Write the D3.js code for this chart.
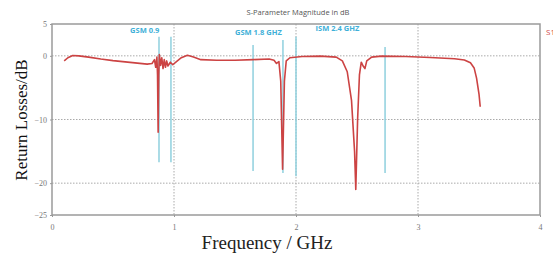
<!DOCTYPE html>
<html>
<head>
<meta charset="utf-8">
<script src="https://cdn.jsdelivr.net/npm/d3@7"></script>
<style>
  body { margin: 0; background: #fff; }
  svg { display: block; }
</style>
</head>
<body>
<svg id="chart" width="553" height="257"></svg>
<script>
// S11 trace (GHz, dB)
var freq = [0.10, 0.13, 0.17, 0.22, 0.30, 0.40, 0.50, 0.60, 0.70, 0.78, 0.82,
            0.84, 0.85, 0.86, 0.865, 0.87, 0.875, 0.88, 0.89, 0.90, 0.91, 0.92, 0.93, 0.94, 0.95, 0.97, 0.99,
            1.02, 1.06, 1.11, 1.16, 1.22, 1.35, 1.50, 1.65, 1.78, 1.82, 1.84, 1.86, 1.875, 1.89, 1.905, 1.92, 1.95,
            2.05, 2.20, 2.33, 2.38, 2.42, 2.455, 2.48, 2.49, 2.505, 2.52, 2.535, 2.55, 2.565, 2.58, 2.62, 2.70,
            2.90, 3.10, 3.30, 3.38, 3.43, 3.46, 3.48, 3.50, 3.51];
var s11 =  [-0.8, -0.3, 0.05, 0.0, -0.2, -0.5, -0.75, -0.95, -1.15, -1.3, -1.2,
            -0.6, -1.8, -0.2, -3, -12, -3, 0.2, -1.5, -0.3, -2.0, -0.6, -1.8, -0.8, -1.6, -1.0, -1.4,
            -0.9, -0.3, 0.1, -0.2, -0.6, -0.7, -0.7, -0.6, -0.5, -0.7, -1.2, -0.9, -4, -17.8, -4, -0.8, -0.3,
            -0.1, -0.05, -0.2, -0.8, -2.5, -7, -15, -21, -10, -3, -1.0, -1.6, -2.0, -0.8, -0.2, -0.05,
            -0.1, -0.25, -0.45, -0.65, -1.1, -1.9, -3.5, -6, -8];

// band marker lines: frequency, top dB, bottom dB
var markerFreq = [0.877, 0.975, 1.648, 1.893, 2.0, 2.73];
var markerTop  = [3.0, 3.0, 1.7, 2.5, 3.0, 1.4];
var markerBot  = [-16.7, -16.7, -18.1, -18.4, -18.9, -18.4];

var bandLabels = ["GSM 0.9", "GSM 1.8 GHZ", "ISM 2.4 GHZ"];
var bandLabelFreq = [0.64, 1.5, 2.16];
var bandLabelDb = [3.6, 3.3, 3.9];

var xTicks = [0, 1, 2, 3, 4];
var yTicks = [5, 0, -10, -20, -25];
var yGrid = [0, -10, -20];
var xGrid = [1, 2, 3];

var svg = d3.select("#chart");
var plotL = 52, plotR = 540, plotT = 24, plotB = 215;

var x = d3.scaleLinear().domain([0, 4]).range([plotL, plotR]);
var y = d3.scaleLinear().domain([-25, 5]).range([plotB, plotT]);

// grid
svg.append("g").selectAll("line")
  .data(yGrid).enter().append("line")
    .attr("x1", plotL).attr("x2", plotR)
    .attr("y1", function(d) { return y(d); })
    .attr("y2", function(d) { return y(d); })
    .attr("stroke", "#aaa")
    .attr("stroke-width", 1)
    .attr("stroke-dasharray", "1.5,1.5");

svg.append("g").selectAll("line")
  .data(xGrid).enter().append("line")
    .attr("y1", plotT).attr("y2", plotB)
    .attr("x1", function(d) { return x(d); })
    .attr("x2", function(d) { return x(d); })
    .attr("stroke", "#aaa")
    .attr("stroke-width", 1)
    .attr("stroke-dasharray", "1.5,1.5");

// frame
svg.append("rect")
    .attr("x", plotL).attr("y", plotT)
    .attr("width", plotR - plotL).attr("height", plotB - plotT)
    .attr("fill", "none")
    .attr("stroke", "#9a9a9a")
    .attr("stroke-width", 1.5);

// axes
var xAxis = svg.append("g")
    .attr("transform", "translate(0," + plotB + ")")
    .call(d3.axisBottom(x).tickValues(xTicks).tickSize(2).tickPadding(7).tickFormat(d3.format("d")));
var yAxis = svg.append("g")
    .attr("transform", "translate(" + plotL + ",0)")
    .call(d3.axisLeft(y).tickValues(yTicks).tickSize(2).tickPadding(3).tickFormat(d3.format("d")));
[xAxis, yAxis].forEach(function(a) {
  a.select(".domain").remove();
  a.selectAll(".tick line").attr("stroke", "#999");
  a.selectAll(".tick text")
    .attr("fill", "#777")
    .attr("font-family", "Liberation Serif, serif")
    .attr("font-size", 8);
});

// band markers
svg.append("g").selectAll("line")
  .data(markerFreq).enter().append("line")
    .attr("x1", function(d) { return x(d); })
    .attr("x2", function(d) { return x(d); })
    .attr("y1", function(d, i) { return y(markerTop[i]); })
    .attr("y2", function(d, i) { return y(markerBot[i]); })
    .attr("stroke", "#8fd0de")
    .attr("stroke-width", 1.5);

svg.append("g").selectAll("text")
  .data(bandLabels).enter().append("text")
    .attr("x", function(d, i) { return x(bandLabelFreq[i]); })
    .attr("y", function(d, i) { return y(bandLabelDb[i]); })
    .attr("fill", "#3fb0d8")
    .attr("font-family", "Open Sans, sans-serif")
    .attr("font-weight", "bold")
    .attr("font-size", 7.5)
    .text(function(d) { return d; });

// trace
var pts = freq.map(function(f, i) { return [f, s11[i]]; });
var line = d3.line()
    .x(function(d) { return x(d[0]); })
    .y(function(d) { return y(d[1]); });

svg.append("path")
    .datum(pts)
    .attr("d", line)
    .attr("fill", "none")
    .attr("stroke", "#cc4343")
    .attr("stroke-width", 1.6)
    .attr("stroke-linejoin", "round");

// title
svg.append("text")
    .attr("x", 298).attr("y", 15)
    .attr("text-anchor", "middle")
    .attr("fill", "#555")
    .attr("font-family", "Open Sans, sans-serif")
    .attr("font-size", 7.5)
    .text("S-Parameter Magnitude in dB");

// clipped legend entry at the right
svg.append("text")
    .attr("x", 546).attr("y", 35)
    .attr("fill", "#d24a4a")
    .attr("font-family", "Open Sans, sans-serif")
    .attr("font-size", 8)
    .text("S1,1");

// axis titles
svg.append("text")
    .attr("transform", "translate(27,120) rotate(-90)")
    .attr("text-anchor", "middle")
    .attr("fill", "#111")
    .attr("font-family", "Liberation Serif, serif")
    .attr("font-size", 17)
    .text("Return Losses/dB");

svg.append("text")
    .attr("x", 267).attr("y", 249)
    .attr("text-anchor", "middle")
    .attr("fill", "#222")
    .attr("font-family", "Liberation Serif, serif")
    .attr("font-size", 19)
    .text("Frequency / GHz");
</script>
</body>
</html>
